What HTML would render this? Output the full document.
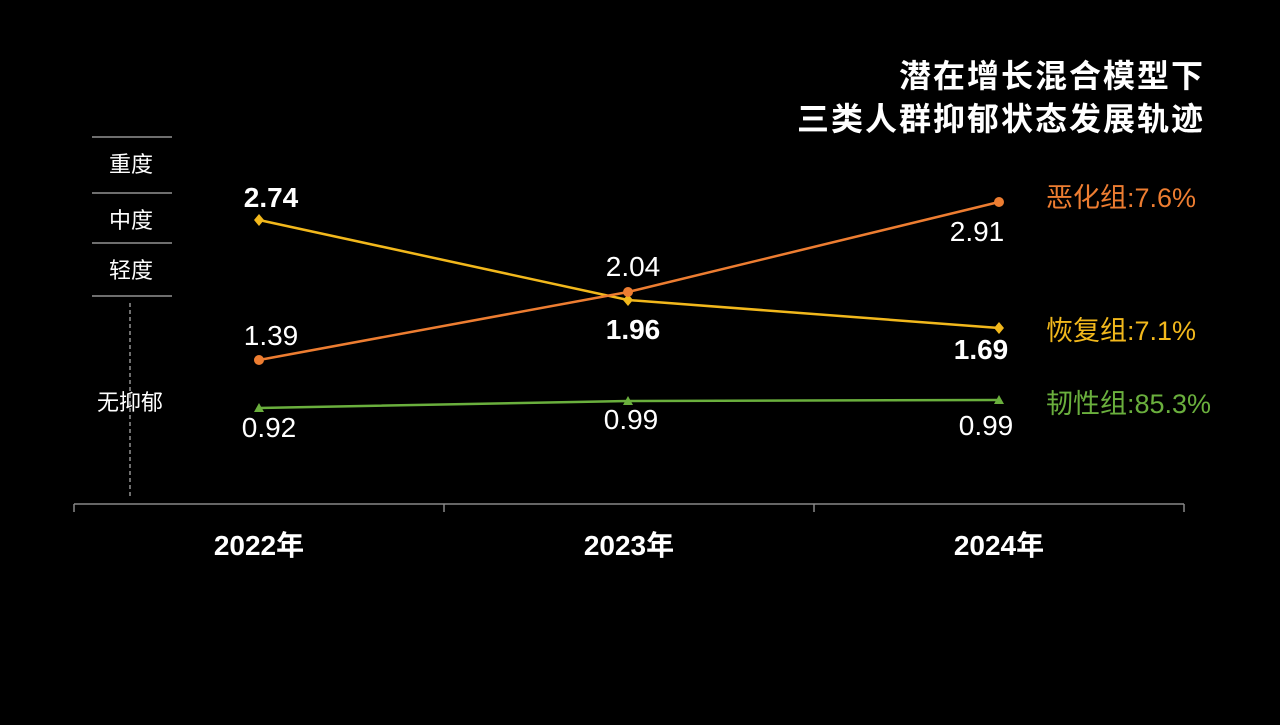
<!DOCTYPE html>
<html><head><meta charset="utf-8"><style>
body{margin:0;background:#000;width:1280px;height:720px;overflow:hidden}
svg text{font-family:"Liberation Sans","Noto Sans CJK SC",sans-serif}
</style></head><body>
<svg width="1280" height="720" viewBox="0 0 1280 720">
<rect width="1280" height="720" fill="#000"/>
<text x="1205" y="87" text-anchor="end" fill="#fff" font-size="32" font-weight="bold" letter-spacing="2">潜在增长混合模型下</text>
<text x="1205" y="130" text-anchor="end" fill="#fff" font-size="32" font-weight="bold" letter-spacing="2">三类人群抑郁状态发展轨迹</text>
<g stroke="#ddd" stroke-width="1">
<line x1="92" y1="137" x2="172" y2="137"/>
<line x1="92" y1="193" x2="172" y2="193"/>
<line x1="92" y1="243" x2="172" y2="243"/>
<line x1="92" y1="296" x2="172" y2="296"/>
<line x1="130" y1="303" x2="130" y2="498" stroke-dasharray="4,3"/>
</g>
<g fill="#fff" font-size="22" text-anchor="middle">
<text x="131" y="172">重度</text>
<text x="131" y="228">中度</text>
<text x="131" y="278">轻度</text>
<text x="130" y="410">无抑郁</text>
</g>
<g stroke="#888" stroke-width="1.5" fill="none">
<line x1="74" y1="504" x2="1184" y2="504"/>
<line x1="74" y1="504" x2="74" y2="512"/>
<line x1="444" y1="504" x2="444" y2="512"/>
<line x1="814" y1="504" x2="814" y2="512"/>
<line x1="1184" y1="504" x2="1184" y2="512"/>
</g>
<g fill="#fff" font-size="28" font-weight="bold" text-anchor="middle">
<text x="259" y="555">2022年</text>
<text x="629" y="555">2023年</text>
<text x="999" y="555">2024年</text>
</g>
<polyline points="259,220 628,300 999,328" fill="none" stroke="#F2B81C" stroke-width="2.5"/>
<polyline points="259,360 628,292 999,202" fill="none" stroke="#ED7D31" stroke-width="2.5"/>
<polyline points="259,408 628,401 999,400" fill="none" stroke="#6AAF3D" stroke-width="2.5"/>
<g fill="#F2B81C"><path d="M259 214l5 6-5 6-5-6z"/><path d="M628 294l5 6-5 6-5-6z"/><path d="M999 322l5 6-5 6-5-6z"/></g>
<g fill="#ED7D31"><circle cx="259" cy="360" r="5"/><circle cx="628" cy="292" r="5"/><circle cx="999" cy="202" r="5"/></g>
<g fill="#6AAF3D"><path d="M259 403l5 9h-10z"/><path d="M628 396l5 9h-10z"/><path d="M999 395l5 9h-10z"/></g>
<g fill="#fff" font-size="28" text-anchor="middle">
<text x="271" y="207" font-weight="bold">2.74</text>
<text x="271" y="345">1.39</text>
<text x="269" y="437">0.92</text>
<text x="633" y="276">2.04</text>
<text x="633" y="339" font-weight="bold">1.96</text>
<text x="631" y="429">0.99</text>
<text x="977" y="241">2.91</text>
<text x="981" y="359" font-weight="bold">1.69</text>
<text x="986" y="435">0.99</text>
</g>
<g font-size="27">
<text x="1046" y="207" fill="#ED7D31">恶化组:7.6%</text>
<text x="1046" y="340" fill="#F2B81C">恢复组:7.1%</text>
<text x="1046" y="413" fill="#6AAF3D">韧性组:85.3%</text>
</g>
</svg>
</body></html>
